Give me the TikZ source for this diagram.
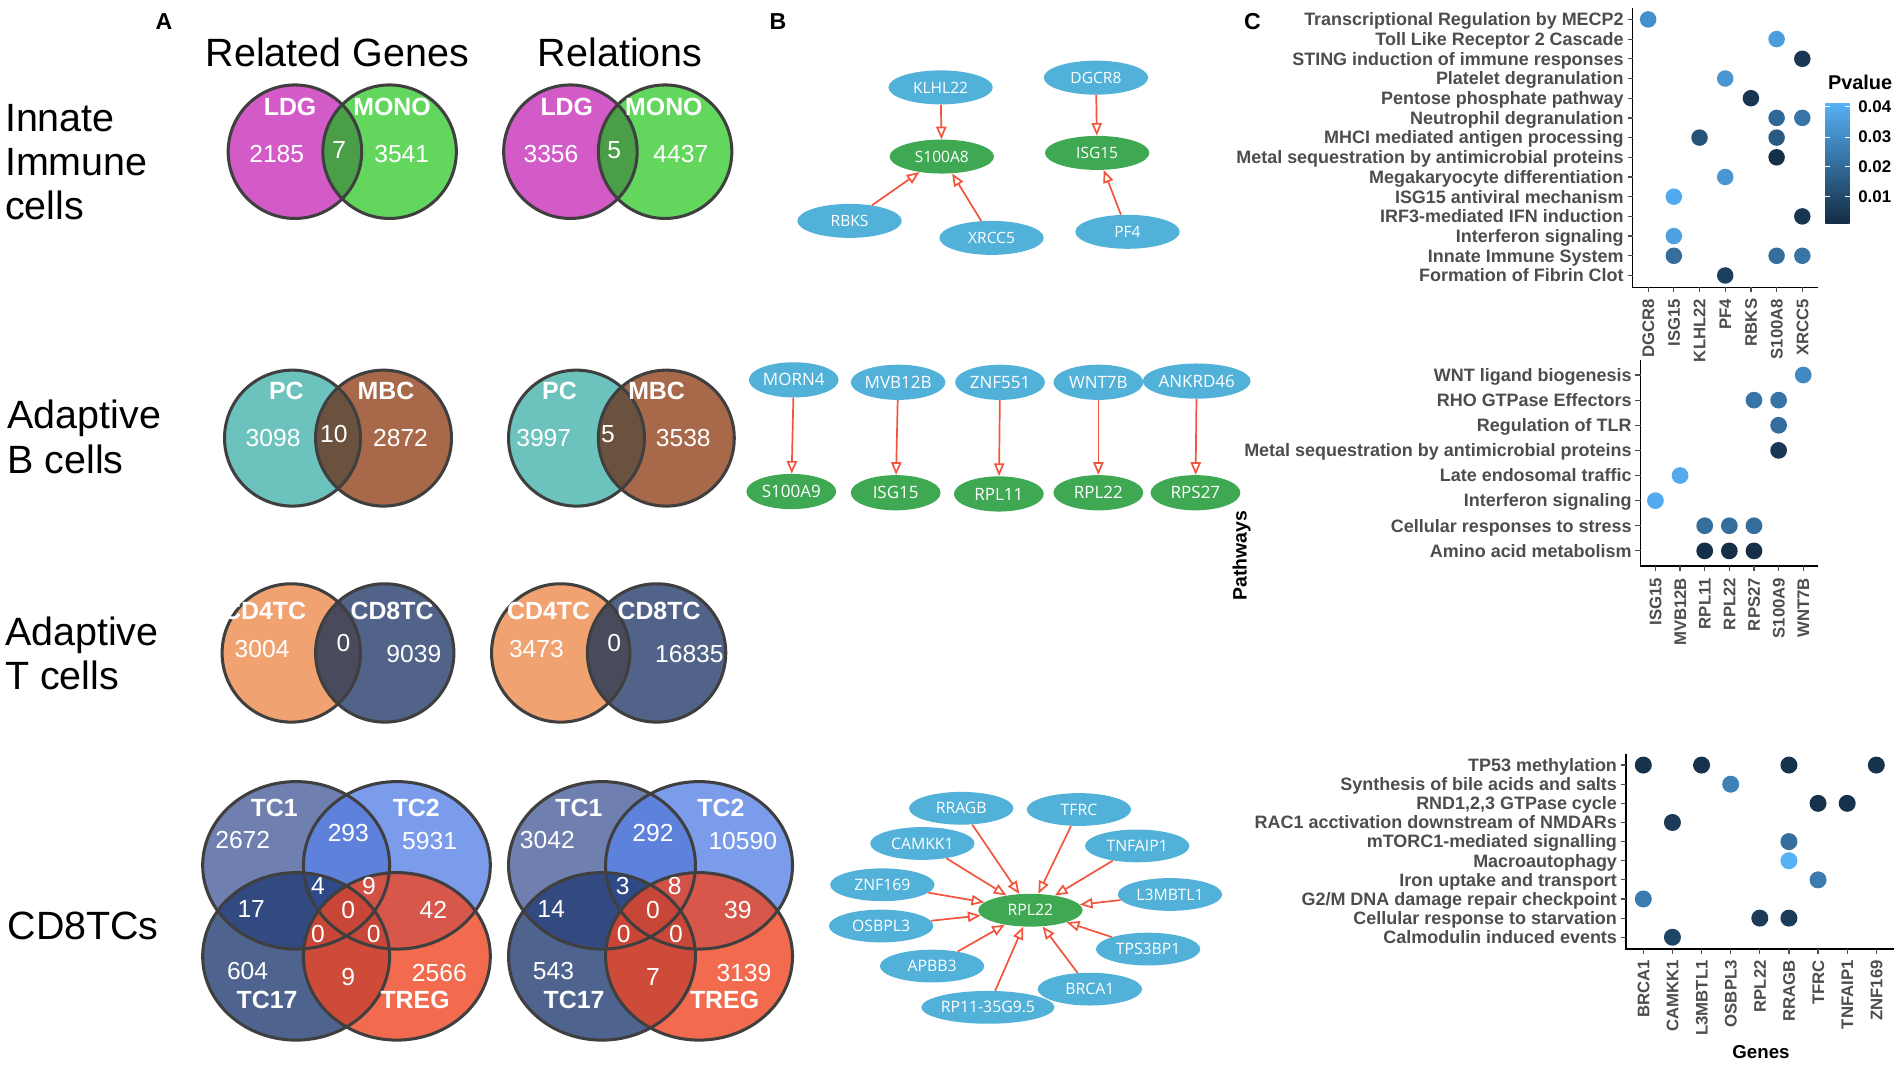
\documentclass[tikz,border=0pt]{standalone}
\usepackage{fontspec}
\setmainfont{Liberation Sans}
\newfontfamily\netfont{Open Sans}
\usetikzlibrary{arrows.meta,shapes.geometric}

\definecolor{vline}{HTML}{3F3F3F}
\definecolor{ldg}{HTML}{D35BC8}
\definecolor{mono}{HTML}{63D65E}
\definecolor{ldgmono}{HTML}{4A9E48}
\definecolor{pcc}{HTML}{6CC3BD}
\definecolor{mbc}{HTML}{A8684A}
\definecolor{pcmbc}{HTML}{6A523F}
\definecolor{cdfour}{HTML}{F0A271}
\definecolor{cdeight}{HTML}{526389}
\definecolor{cdov}{HTML}{4A4A5D}
\definecolor{tcone}{HTML}{4B5F9C}
\definecolor{tctwo}{HTML}{5A83E6}
\definecolor{tcsev}{HTML}{233D74}
\definecolor{treg}{HTML}{EF4624}
\definecolor{nblue}{HTML}{52B1D8}
\definecolor{ngreen}{HTML}{3EA853}
\definecolor{nred}{HTML}{F2553C}
\definecolor{pl}{HTML}{56B1F7}
\definecolor{pd}{HTML}{132B43}
\definecolor{axt}{HTML}{4D4D4D}

\newcommand\vennpair[8]{% x1 x2 y r1 r2 col1 col2 colov
  \fill[#6] (#1,#3) ellipse[x radius=#4,y radius=#4];
  \fill[#7] (#2,#3) ellipse[x radius=#5,y radius=#5];
  \begin{scope}
    \clip (#1,#3) ellipse[x radius=#4,y radius=#4];
    \fill[#8] (#2,#3) ellipse[x radius=#5,y radius=#5];
  \end{scope}
  \draw[vout] (#1,#3) ellipse[x radius=#4,y radius=#4];
  \draw[vout] (#2,#3) ellipse[x radius=#5,y radius=#5];
}
\newcommand\fourset[4]{% x1 x2 ytop ybottom
  \fill[tcone,fill opacity=0.8] (#1,#3) ellipse[x radius=77,y radius=69];
  \fill[tctwo,fill opacity=0.8] (#2,#3) ellipse[x radius=77,y radius=69];
  \fill[tcsev,fill opacity=0.8] (#1,#4) ellipse[x radius=77,y radius=69];
  \fill[treg,fill opacity=0.8] (#2,#4) ellipse[x radius=77,y radius=69];
  \foreach \cx/\cy in {#1/#3,#2/#3,#1/#4,#2/#4}
    \draw[vout] (\cx,\cy) ellipse[x radius=77,y radius=69];
}

\tikzset{
  big/.style={anchor=base west, inner sep=0, font=\fontsize{32.5}{39}\selectfont},
  ttlbig/.style={anchor=base, inner sep=0, font=\fontsize{32.5}{39}\selectfont},
  panel/.style={inner sep=0, font=\bfseries\fontsize{19}{19}\selectfont},
  vout/.style={draw=vline, line width=2.5pt},
  vlab/.style={text=white, inner sep=0, font=\bfseries\fontsize{20.5}{20.5}\selectfont},
  vnum/.style={text=white, inner sep=0, font=\fontsize{20.3}{20.3}\selectfont},
  gene/.style={ellipse, fill=nblue, text=white, inner sep=0, minimum width=86pt, minimum height=28pt, font=\netfont\fontsize{12.8}{12.8}\selectfont},
  genetg/.style={gene, fill=ngreen},
  midgene/.style={gene, minimum width=74pt, minimum height=29pt, font=\netfont\fontsize{14}{14}\selectfont},
  midtg/.style={midgene, fill=ngreen},
  lowgene/.style={gene, minimum width=86pt, minimum height=27pt, font=\netfont\fontsize{13}{13}\selectfont},
  lowtg/.style={lowgene, fill=ngreen},
  arr/.style={draw=nred, line width=1.4pt, -{Triangle[open, length=10.5pt, width=8.5pt]}},
  ylab/.style={anchor=base east, inner sep=0, text=axt, font=\bfseries\fontsize{14.8}{14.8}\selectfont},
  xlab/.style={anchor=base east, rotate=90, inner sep=0, text=axt, font=\bfseries\fontsize{13.8}{13.8}\selectfont},
  axisline/.style={draw=black, line width=1.2pt},
  tickline/.style={draw=axt, line width=1pt},
  ttl/.style={inner sep=0, font=\bfseries\fontsize{16}{16}\selectfont},
  leg/.style={anchor=west, inner sep=0, font=\bfseries\fontsize{13.9}{13.9}\selectfont},
}

\begin{document}
\begin{tikzpicture}[x=1pt,y=-1pt]
\useasboundingbox[fill=white] (0,0) rectangle (1568,877);

% ---------------- Panel A ----------------
\node[panel] (pA) at (135,18) {A};
\node[ttlbig] (tRG) at (278,55) {Related Genes};
\node[ttlbig] (tRel) at (511,55) {Relations};

\node[big] (r1a) at (4,108) {Innate};
\node[big] (r1b) at (4,144.5) {Immune};
\node[big] (r1c) at (4,180.5) {cells};
\node[big] (r2a) at (6,353) {Adaptive};
\node[big] (r2b) at (6,390) {B cells};
\node[big] (r3a) at (4,532) {Adaptive};
\node[big] (r3b) at (4,568) {T cells};
\node[big] (r4a) at (6,774) {CD8TCs};

% Innate
\vennpair{243}{321}{125}{55}{55}{ldg}{mono}{ldgmono}
\node[vlab] (l1) at (239,88) {LDG};
\node[vlab] (m1) at (323,88) {MONO};
\node[vnum] (n11) at (228,126.5) {2185};
\node[vnum] (n12) at (279.5,124) {7};
\node[vnum] (n13) at (331,126.5) {3541};
\vennpair{470}{548}{125}{55}{55}{ldg}{mono}{ldgmono}
\node[vlab] (l2) at (467,88) {LDG};
\node[vlab] (m2) at (547,88) {MONO};
\node[vnum] (n21) at (454,126.5) {3356};
\node[vnum] (n22) at (506,124) {5};
\node[vnum] (n23) at (561,126.5) {4437};

% B cells
\vennpair{241}{316}{361}{56}{56}{pcc}{mbc}{pcmbc}
\node[vlab] (p1) at (236,322) {PC};
\node[vlab] (b1) at (318,322) {MBC};
\node[vnum] (n31) at (225,361) {3098};
\node[vnum] (n32) at (275,358) {10};
\node[vnum] (n33) at (330,361) {2872};
\vennpair{475}{549}{361}{56}{56}{pcc}{mbc}{pcmbc}
\node[vlab] (p2) at (461,322) {PC};
\node[vlab] (b2) at (541,322) {MBC};
\node[vnum] (n41) at (448,361) {3997};
\node[vnum] (n42) at (501,358) {5};
\node[vnum] (n43) at (563,361) {3538};

% T cells
\vennpair{240}{317}{538}{57}{57}{cdfour}{cdeight}{cdov}
\node[vlab] (c41) at (218,503) {CD4TC};
\node[vlab] (c81) at (323,503) {CD8TC};
\node[vnum] (n51) at (216,535) {3004};
\node[vnum] (n52) at (283,530) {0};
\node[vnum] (n53) at (341,539) {9039};
\vennpair{462}{541}{538}{57}{57}{cdfour}{cdeight}{cdov}
\node[vlab] (c42) at (452,503) {CD4TC};
\node[vlab] (c82) at (543,503) {CD8TC};
\node[vnum] (n61) at (442,535) {3473};
\node[vnum] (n62) at (506,530) {0};
\node[vnum] (n63) at (568,539) {16835};

% CD8TCs
\fourset{244}{327}{713}{788}
\node[vlab] (a1) at (226,666) {TC1};
\node[vlab] (a2) at (343,666) {TC2};
\node[vlab] (a3) at (220,824) {TC17};
\node[vlab] (a4) at (342,824) {TREG};
\node[vnum] (q1) at (200,692) {2672};
\node[vnum] (q2) at (287,686) {293};
\node[vnum] (q3) at (354,693) {5931};
\node[vnum] (q4) at (262,730) {4};
\node[vnum] (q5) at (304,730) {9};
\node[vnum] (q6) at (207,749) {17};
\node[vnum] (q7) at (287,750) {0};
\node[vnum] (q8) at (357,750) {42};
\node[vnum] (q9) at (262,770) {0};
\node[vnum] (q10) at (308,770) {0};
\node[vnum] (q11) at (204,800) {604};
\node[vnum] (q12) at (287,805) {9};
\node[vnum] (q13) at (362,802) {2566};
\fourset{496}{576}{713}{788}
\node[vlab] (a5) at (477,666) {TC1};
\node[vlab] (a6) at (594,666) {TC2};
\node[vlab] (a7) at (473,824) {TC17};
\node[vlab] (a8) at (597,824) {TREG};
\node[vnum] (s1) at (451,692) {3042};
\node[vnum] (s2) at (538,686) {292};
\node[vnum] (s3) at (612,693) {10590};
\node[vnum] (s4) at (513,730) {3};
\node[vnum] (s5) at (556,730) {8};
\node[vnum] (s6) at (454,749) {14};
\node[vnum] (s7) at (538,750) {0};
\node[vnum] (s8) at (608,750) {39};
\node[vnum] (s9) at (514,770) {0};
\node[vnum] (s10) at (557,770) {0};
\node[vnum] (s11) at (456,800) {543};
\node[vnum] (s12) at (538,805) {7};
\node[vnum] (s13) at (613,802) {3139};

% ---------------- Panel B ----------------
\node[panel] (pB) at (641,18) {B};

\node[gene] (klhl) at (775,72) {KLHL22};
\node[genetg] (s8) at (776,129) {S100A8};
\node[gene] (rbks) at (700,182) {RBKS};
\node[gene] (xrcc) at (817,196) {XRCC5};
\node[gene] (dgcr) at (903,64) {DGCR8};
\node[genetg] (isga) at (904,126) {ISG15};
\node[gene] (pff) at (929,191) {PF4};
\draw[arr] (klhl) -- (s8);
\draw[arr] (rbks) -- (s8);
\draw[arr] (xrcc) -- (s8);
\draw[arr] (dgcr) -- (isga);
\draw[arr] (pff) -- (isga);

\node[midgene] (morn) at (654,313) {MORN4};
\node[midgene] (mvb) at (740,315) {MVB12B};
\node[midgene] (znf) at (824,315) {ZNF551};
\node[midgene] (wnt) at (905,315) {WNT7B};
\node[midgene] (ank) at (986,314) {ANKRD46};
\node[midtg] (s9) at (652,405) {S100A9};
\node[midtg] (isgb) at (738,406) {ISG15};
\node[midtg] (rpl11) at (823,407) {RPL11};
\node[midtg] (rpl22a) at (905,406) {RPL22};
\node[midtg] (rps) at (985,406) {RPS27};
\draw[arr] (morn) -- (s9);
\draw[arr] (mvb) -- (isgb);
\draw[arr] (znf) -- (rpl11);
\draw[arr] (wnt) -- (rpl22a);
\draw[arr] (ank) -- (rps);

\node[lowtg] (hub) at (849,750) {RPL22};
\node[lowgene] (rragb) at (792,666) {RRAGB};
\node[lowgene] (tfrc) at (889,667) {TFRC};
\node[lowgene] (camkk) at (760,695) {CAMKK1};
\node[lowgene] (tnfa) at (937,697) {TNFAIP1};
\node[lowgene] (z169) at (727,729) {ZNF169};
\node[lowgene] (l3m) at (964,737) {L3MBTL1};
\node[lowgene] (osb) at (726,763) {OSBPL3};
\node[lowgene] (tps) at (946,782) {TPS3BP1};
\node[lowgene] (apbb) at (768,796) {APBB3};
\node[lowgene] (brca) at (898,815) {BRCA1};
\node[lowgene] (rp11) at (814,830) {RP11-35G9.5};
\foreach \g in {rragb,tfrc,camkk,tnfa,z169,l3m,osb,tps,apbb,brca,rp11}
  \draw[arr] (\g) -- (hub);

% ---------------- Panel C ----------------
\node[panel] (pC) at (1032,18) {C};

% top plot
\draw[axisline] (1345.3,6.3) -- (1345.3,236.7) -- (1497.7,236.7);
\foreach \t [count=\i from 0] in {Transcriptional Regulation by MECP2, Toll Like Receptor 2 Cascade, STING induction of immune responses, Platelet degranulation, Pentose phosphate pathway, Neutrophil degranulation, MHCI mediated antigen processing, Metal sequestration by antimicrobial proteins, Megakaryocyte differentiation, ISG15 antiviral mechanism, IRF3-mediated IFN induction, Interferon signaling, Innate Immune System, Formation of Fibrin Clot}{
  \draw[tickline] (1345.3,16+\i*16.23) -- (1341,16+\i*16.23);
  \node[ylab] (ta\i) at (1338,16+\i*16.23+5.2) {\t};
}
\foreach \t [count=\j from 0] in {DGCR8, ISG15, KLHL22, PF4, RBKS, S100A8, XRCC5}{
  \draw[tickline] (1358+\j*21.17,236.7) -- (1358+\j*21.17,241);
  \node[xlab] (tb\j) at (1358+\j*21.17+4.9,246) {\t};
}
\foreach \r/\c/\p in {0/0/75, 1/5/85, 2/6/10, 3/3/80, 4/4/8, 5/5/45, 5/6/55, 6/2/30, 6/5/35, 7/5/3, 8/3/80, 9/1/95, 10/6/8, 11/1/88, 12/1/50, 12/5/50, 12/6/55, 13/3/15}
  \fill[pl!\p!pd] (1358+\c*21.17,16+\r*16.23) circle[radius=6.8];

% legend
\node[ttl, anchor=west, font=\bfseries\fontsize{16.4}{16.4}\selectfont] (pv) at (1506,68) {Pvalue};
\shade[top color=pl, bottom color=pd] (1504,85) rectangle (1524,184);
\foreach \v/\yy in {0.04/88, 0.03/113, 0.02/137.5, 0.01/162}{
  \draw[white, line width=0.8pt] (1504,\yy) -- (1508,\yy);
  \draw[white, line width=0.8pt] (1520,\yy) -- (1524,\yy);
  \node[leg] (lg\yy) at (1531,\yy) {\v};
}

% middle plot
\draw[axisline] (1351.8,296.6) -- (1351.8,466.4) -- (1498,466.4);
\foreach \t [count=\i from 0] in {WNT ligand biogenesis, RHO GTPase Effectors, Regulation of TLR, Metal sequestration by antimicrobial proteins, Late endosomal traffic, Interferon signaling, Cellular responses to stress, Amino acid metabolism}{
  \draw[tickline] (1351.8,309+\i*20.7) -- (1347.5,309+\i*20.7);
  \node[ylab] (ma\i) at (1344.5,309+\i*20.7+5.2) {\t};
}
\foreach \t [count=\j from 0] in {ISG15, MVB12B, RPL11, RPL22, RPS27, S100A9, WNT7B}{
  \draw[tickline] (1364+\j*20.3,466.4) -- (1364+\j*20.3,470.7);
  \node[xlab] (mb\j) at (1364+\j*20.3+4.9,476) {\t};
}
\foreach \r/\c/\p in {0/6/70, 1/4/55, 1/5/55, 2/5/50, 3/5/10, 4/1/95, 5/0/95, 6/2/50, 6/3/50, 6/4/50, 7/2/3, 7/3/3, 7/4/3}
  \fill[pl!\p!pd] (1364+\c*20.3,309+\r*20.7) circle[radius=6.9];
\node[ttl, rotate=90] (pw) at (1023,458) {Pathways};

% bottom plot
\draw[axisline] (1339.6,621) -- (1339.6,781.9) -- (1560.4,781.9);
\foreach \t [count=\i from 0] in {TP53 methylation, Synthesis of bile acids and salts, {RND1,2,3 GTPase cycle}, RAC1 acctivation downstream of NMDARs, mTORC1-mediated signalling, Macroautophagy, Iron uptake and transport, G2/M DNA damage repair checkpoint, Cellular response to starvation, Calmodulin induced events}{
  \draw[tickline] (1339.6,630.4+\i*15.76) -- (1335.3,630.4+\i*15.76);
  \node[ylab] (ba\i) at (1332.5,630.4+\i*15.76+5.2) {\t};
}
\foreach \t [count=\j from 0] in {BRCA1, CAMKK1, L3MBTL1, OSBPL3, RPL22, RRAGB, TFRC, TNFAIP1, ZNF169}{
  \draw[tickline] (1354+\j*24,781.9) -- (1354+\j*24,786.2);
  \node[xlab] (bb\j) at (1354+\j*24+4.9,791) {\t};
}
\foreach \r/\c/\p in {0/0/5, 0/2/5, 0/5/5, 0/8/5, 1/3/65, 2/6/5, 2/7/5, 3/1/12, 4/5/50, 5/5/100, 6/6/60, 7/0/60, 8/4/12, 8/5/12, 9/1/20}
  \fill[pl!\p!pd] (1354+\c*24,630.4+\r*15.76) circle[radius=7];
\node[ttl, font=\bfseries\fontsize{15.4}{15.4}\selectfont] (gn) at (1451,867) {Genes};
\end{tikzpicture}
\end{document}
